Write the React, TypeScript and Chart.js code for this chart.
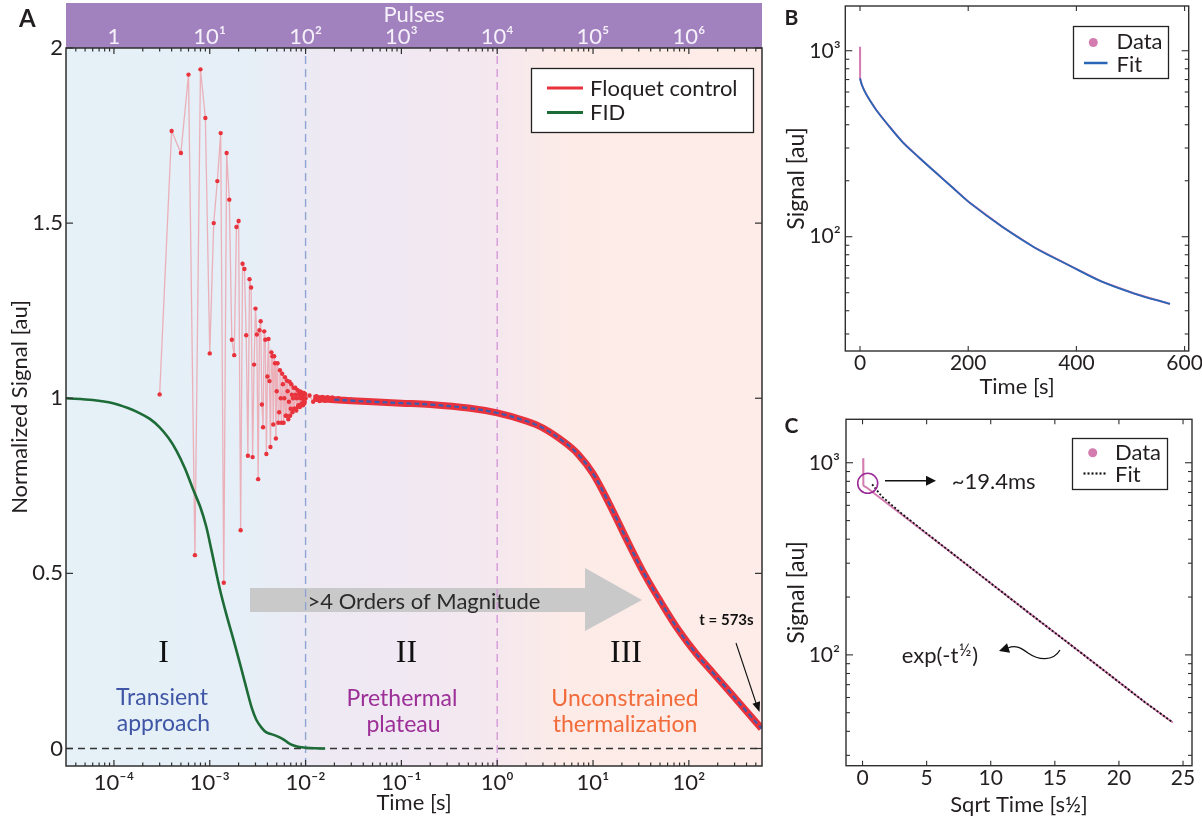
import React, { useEffect, useRef } from 'react';
import { Chart, registerables } from 'chart.js';

Chart.register(...registerables);

const SANS = 'Lato, "Open Sans", "DejaVu Sans", sans-serif';
const SERIF = '"Liberation Serif", "DejaVu Serif", serif';
const INK = '#231f20';

// ================= DATA : panel A =================
const A_TIME_MIN = 3.16e-5;
const A_TIME_MAX = 580;
const PULSE_PERIOD = 1e-4; // seconds per pulse (top axis)
const A_Y_MIN = -0.05;
const A_Y_MAX = 2;
const aYTicks = [0, 0.5, 1, 1.5, 2];
const regionBoundaries = [1e-2, 1];

// Floquet control, transient: pulse number and normalized signal
const transientPulse = [
  3, 4, 5, 6, 7, 8, 9, 10, 11, 12,
  13, 14, 15, 16, 17, 18, 19, 20, 21, 22,
  23, 24, 25, 26, 27, 28, 29, 30, 31, 32,
  33, 34, 35, 36, 37, 38, 39, 40, 41, 42,
  43, 44, 45, 46, 47, 48, 49, 50, 51, 52,
  53, 54, 55, 56, 57, 58, 59, 60, 61, 62,
  63, 64, 65, 66, 67, 68, 69, 70, 71, 72,
  73, 74, 75, 76, 77, 78, 79, 80, 81, 82,
  83, 84, 85, 86, 87, 88, 89, 90, 91, 92,
  93, 94, 95, 96, 97, 98, 99, 100,
  110, 120, 130, 140, 150, 160, 170, 180, 190, 200,
  220, 240, 260, 280, 300,
];
const transientSignal = [
  1.011, 1.763, 1.70, 1.924, 0.552, 1.939, 1.80, 1.128, 1.50, 1.62,
  1.757, 0.473, 1.70, 1.567, 1.167, 1.123, 1.489, 1.506, 0.623, 1.384,
  1.369, 1.18, 0.836, 1.34, 1.316, 0.832, 1.096, 1.256, 1.182, 0.769,
  1.194, 1.22, 0.982, 0.917, 1.191, 1.167, 0.841, 1.062, 1.169, 1.049,
  0.861, 1.131, 1.12, 0.925, 1.12, 1.10, 0.885, 1.02, 1.10, 0.93,
  0.96, 1.08, 1.00, 0.93, 1.07, 1.04, 0.93, 1.00, 1.06, 0.95,
  0.95, 1.05, 1.02, 0.94, 0.99, 1.047, 0.95, 0.97, 1.04, 1.01,
  0.96, 1.00, 1.03, 0.97, 0.97, 1.03, 1.01, 0.965, 1.00, 1.024,
  0.975, 0.98, 1.02, 1.01, 0.975, 1.00, 1.019, 0.98, 0.985, 1.015,
  1.005, 0.98, 0.995, 1.015, 0.985, 0.99, 1.012, 1.0,
  1.008, 0.99, 1.006, 0.992, 1.004, 0.993, 1.003, 0.994, 1.002, 0.995,
  1.0, 0.993, 0.998, 0.994, 0.996,
];

// Floquet control, plateau + thermalization (dense data band)
const plateauTime = [0.012, 0.015, 0.02, 0.03, 0.05, 0.1, 0.2, 0.5, 1, 2, 3, 5, 7, 10, 15, 22.6, 34, 52, 78, 119, 180, 272, 412, 573];
const plateauSignal = [1.0, 0.998, 0.996, 0.993, 0.99, 0.986, 0.982, 0.972, 0.958, 0.935, 0.915, 0.875, 0.84, 0.785, 0.695, 0.595, 0.50, 0.414, 0.338, 0.271, 0.215, 0.159, 0.102, 0.057];

// Fit (blue dashed)
const fitTime = [0.02, 0.03, 0.05, 0.1, 0.2, 0.5, 1, 2, 3, 5, 7, 10, 15, 22.6, 34, 52, 78, 119, 180, 272, 412, 573];
const fitSignal = [0.996, 0.993, 0.99, 0.986, 0.982, 0.972, 0.958, 0.935, 0.915, 0.875, 0.84, 0.785, 0.695, 0.595, 0.50, 0.414, 0.338, 0.271, 0.215, 0.159, 0.102, 0.057];

// FID
const fidTime = [3.16e-5, 6e-5, 9.8e-5, 1.4e-4, 1.87e-4, 2.37e-4, 3.0e-4, 3.7e-4, 4.5e-4, 5.5e-4, 6.7e-4, 8e-4, 9.2e-4, 1.04e-3, 1.27e-3, 1.5e-3, 1.75e-3, 2.1e-3, 2.45e-3, 2.75e-3, 3.06e-3, 3.5e-3, 3.9e-3, 4.4e-3, 4.95e-3, 5.8e-3, 6.6e-3, 7.4e-3, 8.6e-3, 1.0e-2, 1.25e-2, 1.6e-2];
const fidSignal = [1.0, 0.995, 0.986, 0.972, 0.957, 0.941, 0.917, 0.887, 0.85, 0.80, 0.74, 0.688, 0.633, 0.567, 0.457, 0.38, 0.315, 0.235, 0.165, 0.115, 0.082, 0.058, 0.046, 0.041, 0.036, 0.027, 0.016, 0.009, 0.004, 0.002, 0.0005, 0.0];

// ================= DATA : panel B =================
const B_X_MIN = -27.2;
const B_X_MAX = 607.6;
const B_Y_MIN = 24.3;
const B_Y_MAX = 1740;
const bXTicks = [0, 200, 400, 600];
const bDataTime = [0, 0, 0.3, 3, 8, 15, 30, 50, 80, 110, 141, 170, 202, 263, 324, 385, 446, 507, 573];
const bDataSignal = [1050, 760, 711, 660, 610, 560, 480, 405, 320, 265, 220, 185, 153, 113, 87, 70.5, 57.5, 49.5, 43.5];
const bFitTime = [0, 3, 8, 15, 30, 50, 80, 110, 141, 170, 202, 263, 324, 385, 446, 507, 573];
const bFitSignal = [711, 660, 610, 560, 480, 405, 320, 265, 220, 185, 153, 113, 87, 70.5, 57.5, 49.5, 43.5];

// ================= DATA : panel C =================
const C_X_MIN = -1.29;
const C_X_MAX = 25.7;
const C_Y_MIN = 26.5;
const C_Y_MAX = 1683;
const cXTicks = [0, 5, 10, 15, 20, 25];
const cDataSqrtTime = [0.05, 0.05, 0.08, 0.15, 0.3, 1, 3, 5, 7, 10, 13, 16, 19, 22, 24.2];
const cDataSignal = [1054, 780, 762, 752, 745, 685, 541, 427, 337, 236, 165, 116, 81.3, 56.9, 44.5];
const cFitSqrtTime = [0.75, 1.5, 3, 5, 7, 10, 13, 16, 19, 22, 24.2];
const cFitSignal = [772, 668, 548, 429, 338, 236, 165, 116, 81.3, 56.9, 44.5];

// ================= helpers =================
const SUP: Record<string, string> = {
  '-': '\u207B', '0': '\u2070', '1': '\u00B9', '2': '\u00B2', '3': '\u00B3',
  '4': '\u2074', '5': '\u2075', '6': '\u2076', '7': '\u2077', '8': '\u2078', '9': '\u2079',
};
const isPow10 = (v: number) => {
  const l = Math.log10(v);
  return Math.abs(l - Math.round(l)) < 1e-6;
};
const pow10Label = (v: number, plainOne = false) => {
  const e = Math.round(Math.log10(v));
  if (plainOne && e === 0) return '1';
  return '10' + String(e).split('').map((c) => SUP[c]).join('');
};
const logTickValues = (min: number, max: number) => {
  const out: { value: number }[] = [];
  for (let e = Math.floor(Math.log10(min)); e <= Math.ceil(Math.log10(max)); e++) {
    for (let m = 1; m <= 9; m++) {
      const v = m * Math.pow(10, e);
      if (v >= min * 0.99999 && v <= max * 1.00001) out.push({ value: v });
    }
  }
  return out;
};
const xy = (xs: number[], ys: number[]) => xs.map((x, i) => ({ x, y: ys[i] }));
const valueTicks = (vals: number[]) => vals.map((v) => ({ value: v }));

function arrowHead(ctx: CanvasRenderingContext2D, x1: number, y1: number, x2: number, y2: number, len: number, half: number) {
  const a = Math.atan2(y2 - y1, x2 - x1);
  const bx = x2 - len * Math.cos(a);
  const by = y2 - len * Math.sin(a);
  ctx.beginPath();
  ctx.moveTo(x2, y2);
  ctx.lineTo(bx + half * Math.sin(a), by - half * Math.cos(a));
  ctx.lineTo(bx - half * Math.sin(a), by + half * Math.cos(a));
  ctx.closePath();
  ctx.fill();
}

function line(ctx: CanvasRenderingContext2D, x1: number, y1: number, x2: number, y2: number) {
  ctx.beginPath();
  ctx.moveTo(x1, y1);
  ctx.lineTo(x2, y2);
  ctx.stroke();
}

const hidden = { grid: { display: false, drawTicks: false }, border: { display: false } };

// ================= panel A overlay =================
const panelAOverlay = {
  id: 'panelAOverlay',
  beforeDraw(chart: any) {
    const { ctx, chartArea: ca } = chart;
    const xs = chart.scales.x;
    ctx.save();
    ctx.fillStyle = '#a282be';
    ctx.fillRect(ca.left, 3, ca.right - ca.left, ca.top - 3);
    const w = ca.right - ca.left;
    const f = (t: number) => Math.min(1, Math.max(0, (xs.getPixelForValue(t) - ca.left) / w));
    const g = ctx.createLinearGradient(ca.left, 0, ca.right, 0);
    g.addColorStop(0, '#e5f0f7');
    g.addColorStop(f(2.5e-3), '#e6eff7');
    g.addColorStop(f(1.3e-2), '#ede9f3');
    g.addColorStop(f(0.15), '#f1e8f2');
    g.addColorStop(f(1), '#f5e8ee');
    g.addColorStop(f(5), '#fcebe7');
    g.addColorStop(1, '#fdece7');
    ctx.fillStyle = g;
    ctx.fillRect(ca.left, ca.top, w, ca.bottom - ca.top);
    ctx.restore();
  },
  beforeDatasetsDraw(chart: any) {
    const { ctx } = chart;
    ctx.save();
    ctx.fillStyle = '#c9c9c9';
    ctx.beginPath();
    ctx.moveTo(250, 588);
    ctx.lineTo(585, 588);
    ctx.lineTo(585, 568);
    ctx.lineTo(642, 600);
    ctx.lineTo(585, 631);
    ctx.lineTo(585, 612);
    ctx.lineTo(250, 612);
    ctx.closePath();
    ctx.fill();
    ctx.restore();
  },
  afterDraw(chart: any) {
    const { ctx, chartArea: ca, scales } = chart;
    const xs = scales.x;
    const x2 = scales.x2;
    const ys = scales.y;
    ctx.save();
    // frame
    ctx.strokeStyle = '#2f2f2f';
    ctx.lineWidth = 1.5;
    ctx.strokeRect(ca.left, ca.top, ca.right - ca.left, ca.bottom - ca.top);
    ctx.lineWidth = 1.2;
    // bottom ticks
    for (const t of xs.ticks) {
      const px = xs.getPixelForValue(t.value);
      const len = isPow10(t.value) ? 6 : 3.5;
      line(ctx, px, ca.bottom, px, ca.bottom - len);
    }
    // top ticks
    for (const t of x2.ticks) {
      const px = x2.getPixelForValue(t.value);
      const len = isPow10(t.value) ? 6 : 3.5;
      line(ctx, px, ca.top, px, ca.top + len);
    }
    // y ticks both sides
    for (const t of ys.ticks) {
      const py = ys.getPixelForValue(t.value);
      line(ctx, ca.left, py, ca.left + 7, py);
      line(ctx, ca.right, py, ca.right - 7, py);
    }

    // legend
    ctx.fillStyle = '#ffffff';
    ctx.fillRect(531, 68, 223, 65);
    ctx.strokeStyle = '#222';
    ctx.lineWidth = 1.3;
    ctx.strokeRect(531.5, 68.5, 222, 64);
    ctx.lineWidth = 2.8;
    ctx.strokeStyle = '#e8323c';
    line(ctx, 547, 88, 583, 88);
    ctx.strokeStyle = '#1d6b36';
    line(ctx, 547, 112.5, 583, 112.5);
    ctx.fillStyle = INK;
    ctx.font = `22px ${SANS}`;
    ctx.textAlign = 'left';
    ctx.textBaseline = 'alphabetic';
    ctx.fillText('Floquet control', 590, 95.5);
    ctx.fillText('FID', 590, 120);

    // panel letter
    ctx.font = `bold 24px ${SANS}`;
    ctx.fillText('A', 19, 27);

    // region numerals
    ctx.textAlign = 'center';
    ctx.font = `32px ${SERIF}`;
    ctx.fillStyle = '#111';
    ctx.fillText('I', 163.5, 662);
    ctx.fillText('II', 406.5, 662);
    ctx.fillText('III', 626, 662);

    // region captions
    ctx.font = `23px ${SANS}`;
    ctx.fillStyle = '#3f56a6';
    ctx.fillText('Transient', 162, 705);
    ctx.fillText('approach', 163.5, 731);
    ctx.fillStyle = '#9c2f98';
    ctx.fillText('Prethermal', 402, 705.5);
    ctx.fillText('plateau', 403.5, 731.5);
    ctx.fillStyle = '#f26b3a';
    ctx.fillText('Unconstrained', 625, 705.5);
    ctx.fillText('thermalization', 625, 731.5);

    // big arrow caption
    ctx.fillStyle = '#2b2b2b';
    ctx.font = `22px ${SANS}`;
    ctx.fillText('>4 Orders of Magnitude', 424, 609);

    // t = 573s annotation
    ctx.font = `bold 15px ${SANS}`;
    ctx.fillStyle = '#111';
    ctx.fillText('t = 573s', 726.5, 625);
    ctx.strokeStyle = '#111';
    ctx.lineWidth = 1.1;
    line(ctx, 736, 643, 756, 703);
    arrowHead(ctx, 736, 643, 759.5, 712, 10, 4);
    ctx.restore();
  },
};

function buildA(canvas: HTMLCanvasElement) {
  const tickFont = { family: SANS, size: 22, lineHeight: 1 };
  return new Chart(canvas, {
    type: 'line',
    data: {
      datasets: [
        {
          label: 'Fit',
          data: xy(fitTime, fitSignal),
          borderColor: '#3b5cb0',
          borderWidth: 2.2,
          borderDash: [5, 3],
          pointRadius: 0,
          tension: 0.35,
          order: 0,
        },
        {
          label: 'FID',
          data: xy(fidTime, fidSignal),
          borderColor: '#1d6b36',
          borderWidth: 2.6,
          pointRadius: 0,
          tension: 0.3,
          order: 1,
        },
        {
          label: 'Floquet control (dense)',
          data: xy(plateauTime, plateauSignal),
          borderColor: '#e8323c',
          borderWidth: 7,
          pointRadius: 0,
          tension: 0.35,
          order: 2,
        },
        {
          label: 'Floquet control',
          data: xy(transientPulse.map((k) => k * PULSE_PERIOD), transientSignal),
          borderColor: 'rgba(236,150,160,0.7)',
          borderWidth: 1.3,
          pointRadius: 2.2,
          pointBackgroundColor: '#e8323c',
          pointBorderWidth: 0,
          order: 3,
        },
        {
          label: 'zero',
          data: [{ x: A_TIME_MIN, y: 0 }, { x: A_TIME_MAX, y: 0 }],
          borderColor: '#333',
          borderWidth: 1.4,
          borderDash: [7, 5],
          pointRadius: 0,
          order: 4,
        },
        {
          label: 'boundary 1',
          data: [{ x: regionBoundaries[0], y: A_Y_MIN }, { x: regionBoundaries[0], y: A_Y_MAX }],
          borderColor: '#8ea4d3',
          borderWidth: 1.4,
          borderDash: [8, 5],
          pointRadius: 0,
          order: 5,
        },
        {
          label: 'boundary 2',
          data: [{ x: regionBoundaries[1], y: A_Y_MIN }, { x: regionBoundaries[1], y: A_Y_MAX }],
          borderColor: '#d49ad8',
          borderWidth: 1.4,
          borderDash: [8, 5],
          pointRadius: 0,
          order: 6,
        },
      ],
    },
    options: {
      animation: false,
      responsive: false,
      devicePixelRatio: 1,
      events: [],
      layout: { padding: { left: 0, right: 8, top: 3, bottom: 0 } },
      plugins: { legend: { display: false }, tooltip: { enabled: false } },
      scales: {
        x: {
          type: 'logarithmic',
          position: 'bottom',
          min: A_TIME_MIN,
          max: A_TIME_MAX,
          bounds: 'data',
          ...hidden,
          afterBuildTicks: (s: any) => { s.ticks = logTickValues(A_TIME_MIN, A_TIME_MAX); },
          afterFit: (s: any) => { s.height = 55; s.paddingLeft = 0; s.paddingRight = 0; },
          ticks: {
            autoSkip: false, maxRotation: 0, minRotation: 0, padding: 6, color: INK, font: tickFont,
            callback: (v: any) => (isPow10(Number(v)) ? pow10Label(Number(v)) : ''),
          },
          title: {
            display: true, text: 'Time [s]', color: INK,
            font: { family: SANS, size: 22, lineHeight: 1 }, padding: { top: 0, bottom: 7 },
          },
        },
        x2: {
          type: 'logarithmic',
          position: 'top',
          axis: 'x',
          min: A_TIME_MIN / PULSE_PERIOD,
          max: A_TIME_MAX / PULSE_PERIOD,
          bounds: 'data',
          ...hidden,
          afterBuildTicks: (s: any) => { s.ticks = logTickValues(A_TIME_MIN / PULSE_PERIOD, A_TIME_MAX / PULSE_PERIOD); },
          afterFit: (s: any) => { s.height = 45; s.paddingLeft = 0; s.paddingRight = 0; },
          ticks: {
            autoSkip: false, maxRotation: 0, minRotation: 0, padding: 0, color: '#f5f0fa', font: tickFont,
            callback: (v: any) => (isPow10(Number(v)) ? pow10Label(Number(v), true) : ''),
          },
          title: {
            display: true, text: 'Pulses', color: '#f5f0fa',
            font: { family: SANS, size: 22, lineHeight: 1 }, padding: { top: 1, bottom: 0 },
          },
        },
        y: {
          type: 'linear',
          position: 'left',
          min: A_Y_MIN,
          max: A_Y_MAX,
          bounds: 'data',
          ...hidden,
          afterBuildTicks: (s: any) => { s.ticks = valueTicks(aYTicks); },
          afterFit: (s: any) => { s.width = 66; s.paddingTop = 0; s.paddingBottom = 0; },
          ticks: { autoSkip: false, padding: 3, color: INK, font: tickFont, callback: (v: any) => String(v) },
          title: {
            display: true, text: 'Normalized Signal [au]', color: INK,
            font: { family: SANS, size: 22, lineHeight: 1 }, padding: { top: 9, bottom: 0 },
          },
        },
      },
    } as any,
    plugins: [panelAOverlay],
  });
}

// ================= panels B & C =================
function smallFrame(chart: any, xTickVals: number[]) {
  const { ctx, chartArea: ca, scales } = chart;
  const xs = scales.x;
  const ys = scales.y;
  ctx.save();
  ctx.strokeStyle = '#2f2f2f';
  ctx.lineWidth = 1.4;
  ctx.strokeRect(ca.left, ca.top, ca.right - ca.left, ca.bottom - ca.top);
  ctx.lineWidth = 1.1;
  for (const t of ys.ticks) {
    const py = ys.getPixelForValue(t.value);
    const len = isPow10(t.value) ? 7 : 4;
    line(ctx, ca.left, py, ca.left + len, py);
    line(ctx, ca.right, py, ca.right - len, py);
  }
  for (const v of xTickVals) {
    const px = xs.getPixelForValue(v);
    line(ctx, px, ca.bottom, px, ca.bottom - 5);
    line(ctx, px, ca.top, px, ca.top + 5);
  }
  ctx.restore();
}

const panelBOverlay = {
  id: 'panelBOverlay',
  afterDraw(chart: any) {
    smallFrame(chart, bXTicks);
    const { ctx } = chart;
    ctx.save();
    // legend
    ctx.fillStyle = '#fff';
    ctx.fillRect(303.5, 26.5, 95, 52);
    ctx.strokeStyle = '#222';
    ctx.lineWidth = 1.3;
    ctx.strokeRect(303.5, 26.5, 95, 52);
    ctx.fillStyle = '#d47bb0';
    ctx.beginPath();
    ctx.arc(323.3, 42.5, 4.5, 0, Math.PI * 2);
    ctx.fill();
    ctx.strokeStyle = '#2a66b6';
    ctx.lineWidth = 2.5;
    line(ctx, 314, 63, 337.5, 63);
    ctx.fillStyle = INK;
    ctx.font = `22px ${SANS}`;
    ctx.textAlign = 'left';
    ctx.fillText('Data', 346.5, 49.3);
    ctx.fillText('Fit', 346.5, 71.5);
    ctx.font = `bold 21px ${SANS}`;
    ctx.fillText('B', 14.5, 25);
    ctx.restore();
  },
};

const panelCOverlay = {
  id: 'panelCOverlay',
  afterDraw(chart: any) {
    smallFrame(chart, cXTicks);
    const { ctx } = chart;
    ctx.save();
    // legend
    ctx.fillStyle = '#fff';
    ctx.fillRect(302.5, 38.5, 95, 51);
    ctx.strokeStyle = '#222';
    ctx.lineWidth = 1.3;
    ctx.strokeRect(302.5, 38.5, 95, 51);
    ctx.fillStyle = '#d47bb0';
    ctx.beginPath();
    ctx.arc(322.7, 52.7, 4.5, 0, Math.PI * 2);
    ctx.fill();
    ctx.strokeStyle = '#111';
    ctx.lineWidth = 2.2;
    ctx.setLineDash([2, 2]);
    line(ctx, 313.5, 73.5, 337, 73.5);
    ctx.setLineDash([]);
    ctx.fillStyle = INK;
    ctx.font = `22px ${SANS}`;
    ctx.textAlign = 'left';
    ctx.fillText('Data', 345, 60);
    ctx.fillText('Fit', 345, 82.3);
    ctx.font = `bold 21px ${SANS}`;
    ctx.fillText('C', 14.5, 33.3);

    // circle marking the knee
    ctx.strokeStyle = '#9b2a96';
    ctx.lineWidth = 1.6;
    ctx.beginPath();
    ctx.arc(97.7, 83.3, 10, 0, Math.PI * 2);
    ctx.stroke();
    // straight arrow
    ctx.strokeStyle = '#111';
    ctx.fillStyle = '#111';
    ctx.lineWidth = 1.4;
    line(ctx, 115, 80.7, 157, 80.7);
    arrowHead(ctx, 115, 80.7, 166, 80.7, 10, 5);
    ctx.fillStyle = INK;
    ctx.font = `22px ${SANS}`;
    ctx.fillText('~19.4ms', 181.7, 89.3);
    // exp label with raised ½
    const base = 'exp(-t';
    ctx.fillText(base, 131.7, 263);
    const w1 = ctx.measureText(base).width;
    ctx.font = `17px ${SANS}`;
    ctx.fillText('\u00BD', 131.7 + w1 + 0.5, 256);
    const w2 = ctx.measureText('\u00BD').width;
    ctx.font = `22px ${SANS}`;
    ctx.fillText(')', 131.7 + w1 + w2 + 1.5, 263);
    // wavy arrow
    ctx.strokeStyle = '#111';
    ctx.lineWidth = 1.3;
    ctx.beginPath();
    ctx.moveTo(290, 250);
    ctx.bezierCurveTo(283, 262, 268, 260, 258, 253);
    ctx.bezierCurveTo(250, 247, 245, 245, 238, 248);
    ctx.stroke();
    ctx.fillStyle = '#111';
    arrowHead(ctx, 240, 247.5, 229, 251, 10, 5);
    ctx.restore();
  },
};

function smallChart(
  canvas: HTMLCanvasElement,
  cfg: {
    xMin: number; xMax: number; yMin: number; yMax: number; xTicks: number[];
    padTop: number; padRight: number; yWidth: number; xHeight: number;
    xLabelPad: number; yLabelPad: number; xTitle: string; xTitlePad: number;
    datasets: any[]; overlay: any;
  },
) {
  const tickFont = { family: SANS, size: 21, lineHeight: 1 };
  return new Chart(canvas, {
    type: 'line',
    data: { datasets: cfg.datasets },
    options: {
      animation: false,
      responsive: false,
      devicePixelRatio: 1,
      events: [],
      layout: { padding: { left: 0, right: cfg.padRight, top: cfg.padTop, bottom: 0 } },
      plugins: { legend: { display: false }, tooltip: { enabled: false } },
      scales: {
        x: {
          type: 'linear',
          position: 'bottom',
          min: cfg.xMin,
          max: cfg.xMax,
          bounds: 'data',
          ...hidden,
          afterBuildTicks: (s: any) => { s.ticks = valueTicks(cfg.xTicks); },
          afterFit: (s: any) => { s.height = cfg.xHeight; s.paddingLeft = 0; s.paddingRight = 0; },
          ticks: { autoSkip: false, maxRotation: 0, minRotation: 0, padding: cfg.xLabelPad, color: INK, font: tickFont, callback: (v: any) => String(v) },
          title: {
            display: true, text: cfg.xTitle, color: INK,
            font: { family: SANS, size: 22, lineHeight: 1 }, padding: { top: 0, bottom: cfg.xTitlePad },
          },
        },
        y: {
          type: 'logarithmic',
          position: 'left',
          min: cfg.yMin,
          max: cfg.yMax,
          bounds: 'data',
          ...hidden,
          afterBuildTicks: (s: any) => { s.ticks = logTickValues(cfg.yMin, cfg.yMax); },
          afterFit: (s: any) => { s.width = cfg.yWidth; s.paddingTop = 0; s.paddingBottom = 0; },
          ticks: {
            autoSkip: false, padding: cfg.yLabelPad, color: INK, font: tickFont,
            callback: (v: any) => (isPow10(Number(v)) ? pow10Label(Number(v)) : ''),
          },
          title: {
            display: true, text: 'Signal [au]', color: INK,
            font: { family: SANS, size: 23, lineHeight: 1 }, padding: { top: 15, bottom: 0 },
          },
        },
      },
    } as any,
    plugins: [cfg.overlay],
  });
}

function buildB(canvas: HTMLCanvasElement) {
  return smallChart(canvas, {
    xMin: B_X_MIN, xMax: B_X_MAX, yMin: B_Y_MIN, yMax: B_Y_MAX, xTicks: bXTicks,
    padTop: 6, padRight: 13.3, yWidth: 75.3, xHeight: 49,
    xLabelPad: 2, yLabelPad: 4.6, xTitle: 'Time [s]', xTitlePad: 2,
    overlay: panelBOverlay,
    datasets: [
      {
        label: 'Fit', data: xy(bFitTime, bFitSignal), borderColor: '#2a66b6', borderWidth: 1.8,
        pointRadius: 0, tension: 0.4, order: 0,
      },
      {
        label: 'Data', data: xy(bDataTime, bDataSignal), borderColor: '#d47bb0', borderWidth: 2,
        pointRadius: 0, order: 1,
      },
    ],
  });
}

function buildC(canvas: HTMLCanvasElement) {
  return smallChart(canvas, {
    xMin: C_X_MIN, xMax: C_X_MAX, yMin: C_Y_MIN, yMax: C_Y_MAX, xTicks: cXTicks,
    padTop: 19.3, padRight: 10, yWidth: 76, xHeight: 55.3,
    xLabelPad: 2, yLabelPad: 6, xTitle: 'Sqrt Time [s\u00BD]', xTitlePad: 5,
    overlay: panelCOverlay,
    datasets: [
      {
        label: 'Fit', data: xy(cFitSqrtTime, cFitSignal), borderColor: '#111', borderWidth: 1.8,
        borderDash: [2, 2], pointRadius: 0, order: 0,
      },
      {
        label: 'Data', data: xy(cDataSqrtTime, cDataSignal), borderColor: '#d47bb0', borderWidth: 2,
        pointRadius: 0, order: 1,
      },
    ],
  });
}

export default function App() {
  const aRef = useRef<HTMLCanvasElement>(null);
  const bRef = useRef<HTMLCanvasElement>(null);
  const cRef = useRef<HTMLCanvasElement>(null);

  useEffect(() => {
    Chart.defaults.font.family = SANS;
    const charts = [buildA(aRef.current!), buildB(bRef.current!), buildC(cRef.current!)];
    return () => charts.forEach((c) => c.destroy());
  }, []);

  return (
    <div style={{ position: 'fixed', left: 0, top: 0, width: 1202, height: 821, background: '#fff', overflow: 'hidden' }}>
      <canvas ref={aRef} width={770} height={821} style={{ position: 'absolute', left: 0, top: 0, width: 770, height: 821 }} />
      <canvas ref={bRef} width={432} height={400} style={{ position: 'absolute', left: 770, top: 0, width: 432, height: 400 }} />
      <canvas ref={cRef} width={432} height={421} style={{ position: 'absolute', left: 770, top: 400, width: 432, height: 421 }} />
    </div>
  );
}
